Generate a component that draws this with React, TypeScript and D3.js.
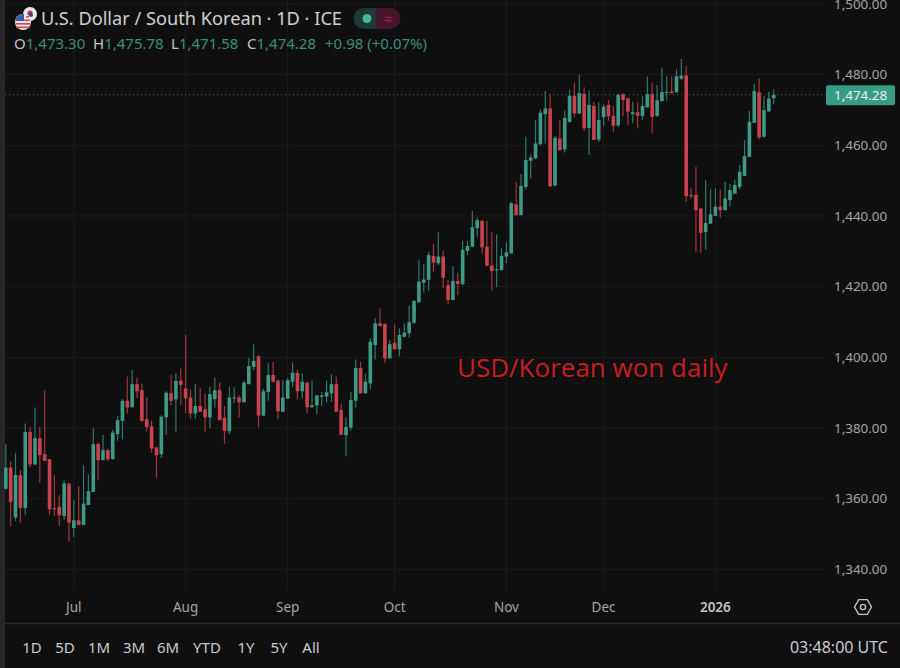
import { useRef, useEffect } from 'react';
import * as d3 from 'd3';

const opens = [
  1362.8,1368.8,1354.7,1366.7,1357.4,1378.9,1369.7,1377.1,1372.6,1371.2,
  1357.3,1357.7,1355.1,1364.3,1351.7,1353.9,1352.6,1358.2,1361.9,1375.5,
  1370.9,1373.7,1371.2,1378.3,1382.0,1387.7,1385.9,1392.4,1390.7,1382.5,
  1380.5,1374.5,1372.6,1383.0,1389.8,1388.1,1393.4,1391.2,1388.6,1384.1,
  1386.2,1385.3,1383.0,1388.2,1390.7,1382.9,1379.1,1388.4,1388.6,1387.3,
  1392.4,1397.3,1400.3,1383.5,1390.2,1395.0,1393.4,1384.6,1388.3,1393.1,
  1395.6,1390.4,1392.8,1385.9,1386.4,1388.8,1388.9,1389.8,1392.4,1385.1,
  1378.0,1380.1,1387.7,1397.0,1389.8,1392.6,1403.5,1409.6,1409.4,1399.7,
  1404.1,1402.3,1405.8,1406.8,1409.8,1415.6,1421.1,1421.9,1428.7,1426.6,
  1428.5,1420.4,1416.2,1421.6,1420.7,1430.1,1431.3,1436.5,1438.6,1431.3,
  1426.0,1424.6,1424.7,1428.5,1429.4,1443.3,1440.2,1448.2,1455.6,1456.3,
  1460.3,1468.8,1470.4,1448.6,1461.9,1458.8,1466.6,1474.0,1469.0,1474.5,
  1464.9,1471.1,1461.6,1467.9,1471.4,1468.3,1465.6,1474.4,1473.3,1468.8,
  1469.3,1468.3,1470.7,1474.4,1468.3,1472.5,1474.8,1475.2,1475.0,1478.8,
  1479.7,1445.9,1445.9,1442.1,1435.4,1437.8,1440.0,1442.6,1441.6,1444.5,
  1446.3,1448.2,1451.3,1456.7,1466.3,1475.0,1462.4,1469.6,1473.3,
];
const highs = [
  1375.4,1370.6,1373.0,1368.1,1381.3,1380.3,1385.8,1380.3,1390.6,1371.2,
  1366.7,1361.0,1365.2,1364.3,1359.6,1363.6,1369.5,1366.9,1379.9,1375.9,
  1378.0,1374.2,1379.4,1383.4,1388.2,1394.6,1396.4,1394.3,1392.6,1388.8,
  1382.2,1374.7,1383.6,1390.4,1395.0,1395.4,1396.9,1406.3,1390.9,1392.4,
  1391.4,1389.8,1391.7,1394.3,1392.8,1386.2,1391.7,1391.5,1389.2,1393.4,
  1399.7,1403.6,1400.6,1391.2,1398.3,1398.7,1393.7,1393.5,1394.2,1398.5,
  1396.4,1395.4,1393.1,1393.4,1389.3,1390.2,1393.4,1395.2,1394.5,1386.9,
  1383.0,1390.1,1399.4,1398.7,1395.4,1405.3,1411.0,1413.8,1409.6,1404.9,
  1409.3,1408.2,1409.6,1414.6,1416.2,1427.5,1426.3,1429.7,1432.0,1435.4,
  1430.2,1421.9,1425.8,1423.9,1433.0,1433.0,1441.4,1439.6,1438.8,1438.6,
  1435.4,1434.8,1430.8,1432.5,1444.0,1449.5,1451.8,1462.4,1457.4,1467.1,
  1470.1,1475.3,1474.5,1462.6,1467.1,1469.8,1475.6,1477.7,1479.9,1476.4,
  1475.4,1472.3,1472.1,1471.6,1472.8,1471.1,1474.4,1474.7,1473.3,1472.3,
  1472.3,1473.9,1479.4,1477.7,1477.0,1482.0,1479.5,1479.4,1481.5,1484.4,
  1482.4,1447.9,1453.9,1442.4,1450.1,1447.6,1447.8,1447.3,1449.6,1449.0,
  1450.3,1454.4,1461.4,1469.7,1477.3,1478.9,1473.9,1475.1,1475.78,
];
const lows = [
  1362.6,1352.3,1353.7,1353.2,1355.3,1368.8,1369.5,1364.5,1370.7,1355.5,
  1355.1,1352.3,1354.1,1347.8,1349.2,1352.5,1352.5,1358.2,1361.9,1365.2,
  1370.9,1370.6,1371.1,1376.4,1376.8,1384.1,1385.9,1388.4,1381.8,1379.1,
  1373.0,1365.9,1371.6,1378.0,1386.5,1378.7,1386.5,1384.1,1382.7,1382.7,
  1384.6,1378.9,1379.9,1385.8,1382.2,1375.6,1378.3,1387.1,1383.0,1387.3,
  1392.4,1396.4,1380.2,1383.4,1387.7,1392.9,1382.5,1384.6,1388.2,1391.5,
  1388.1,1388.5,1384.1,1385.8,1383.8,1386.2,1387.2,1387.4,1384.6,1378.0,
  1372.0,1379.2,1385.8,1389.8,1389.8,1390.9,1399.4,1408.7,1398.3,1399.7,
  1402.0,1400.3,1405.6,1405.6,1409.4,1415.3,1418.3,1418.8,1424.2,1426.1,
  1419.5,1415.1,1416.2,1417.6,1420.4,1428.9,1431.1,1434.1,1429.4,1425.8,
  1419.0,1419.8,1424.5,1426.6,1429.4,1440.2,1440.2,1447.5,1450.6,1456.0,
  1460.0,1460.5,1448.2,1448.4,1458.4,1457.9,1466.4,1467.9,1468.8,1464.1,
  1457.2,1461.5,1461.0,1465.5,1466.9,1463.8,1465.2,1468.2,1465.7,1466.2,
  1464.8,1467.1,1470.7,1463.5,1468.0,1472.3,1472.6,1474.4,1474.9,1478.6,
  1444.0,1444.9,1429.8,1429.5,1430.5,1437.8,1440.0,1439.5,1441.6,1442.6,
  1446.3,1447.5,1451.2,1456.7,1466.3,1461.6,1462.2,1469.4,1471.58,
];
const closes = [
  1368.8,1359.1,1366.7,1357.4,1378.9,1369.7,1377.1,1372.3,1370.7,1357.0,
  1357.0,1355.3,1364.3,1353.2,1353.9,1352.6,1358.6,1362.1,1375.4,1370.9,
  1373.7,1371.1,1378.7,1382.2,1387.7,1385.8,1392.4,1390.4,1382.0,1380.3,
  1374.2,1372.3,1383.2,1390.0,1387.7,1393.3,1392.2,1388.4,1384.1,1386.2,
  1384.6,1383.0,1389.6,1390.7,1382.2,1379.2,1388.6,1388.6,1387.3,1392.8,
  1397.5,1399.0,1383.5,1390.4,1395.0,1393.1,1384.7,1388.6,1393.5,1395.6,
  1390.4,1393.1,1385.9,1386.4,1389.2,1389.2,1390.1,1392.4,1384.6,1378.1,
  1380.3,1387.9,1397.0,1389.8,1393.1,1404.4,1409.6,1408.8,1399.7,1403.7,
  1402.3,1406.3,1407.0,1409.9,1415.9,1421.4,1422.0,1428.9,1426.8,1428.5,
  1422.5,1416.2,1421.6,1420.7,1430.4,1431.5,1436.8,1438.8,1431.1,1425.9,
  1424.4,1424.9,1428.7,1429.7,1443.6,1440.2,1448.5,1455.8,1456.5,1460.5,
  1469.2,1470.4,1448.4,1462.1,1458.6,1467.7,1474.0,1469.0,1474.7,1464.8,
  1471.4,1461.5,1467.1,1470.9,1468.2,1465.5,1474.3,1472.8,1469.5,1469.3,
  1468.3,1471.1,1474.4,1468.0,1472.7,1475.0,1475.1,1474.8,1479.5,1479.7,
  1445.6,1445.6,1441.6,1435.2,1438.0,1440.5,1442.6,1441.6,1444.9,1447.3,
  1448.7,1452.5,1456.9,1466.6,1475.3,1462.2,1469.9,1473.2,1474.28,
];

const priceTicks = [1340, 1360, 1380, 1400, 1420, 1440, 1460, 1480, 1500];
const monthLabels = ['Jul', 'Aug', 'Sep', 'Oct', 'Nov', 'Dec', '2026'];
const rangeLabels = ['1D', '5D', '1M', '3M', '6M', 'YTD', '1Y', '5Y', 'All'];
const rangeX = [32, 65, 99, 134, 168, 207, 246, 279, 311];
const lastClose = 1474.28;

const WIDTH = 900;
const HEIGHT = 668;
const UI_FONT = '"Noto Sans", sans-serif';
const UP = '#3f9a85';
const DOWN = '#c9434f';
const UP_WICK = '#2f7b69';
const DOWN_WICK = '#a23641';
const GRID = '#1c1c1c';

// weekdays only, the chart has no gaps for weekends
const days = d3.timeDay
  .range(new Date(2025, 5, 11), new Date(2026, 0, 20))
  .filter((d) => d.getDay() !== 0 && d.getDay() !== 6);

export default function App() {
  const svgRef = useRef<SVGSVGElement>(null);

  useEffect(() => {
    if (!svgRef.current) return;
    const svg = d3.select(svgRef.current);
    svg.selectAll('*').remove();

    const x = d3.scalePoint<number>().domain(d3.range(opens.length)).range([5.8, 773.7]);
    const y = d3.scaleLinear().domain([1340, 1480]).range([569.4, 74.5]);

    const candles = opens.map((o, i) => ({ i, o, h: highs[i], l: lows[i], c: closes[i] }));
    const monthStarts = d3
      .range(1, days.length)
      .filter((i) => days[i].getMonth() !== days[i - 1].getMonth());

    svg.append('rect').attr('width', WIDTH).attr('height', HEIGHT).attr('fill', '#0f0f0f');
    svg.append('rect').attr('width', 5).attr('height', HEIGHT).attr('fill', '#262626');

    // Gridlines
    svg.selectAll('line.hgrid')
      .data(priceTicks)
      .join('line')
      .attr('class', 'hgrid')
      .attr('x1', 5)
      .attr('x2', 824)
      .attr('y1', (d) => y(d))
      .attr('y2', (d) => y(d))
      .attr('stroke', GRID);

    svg.selectAll('line.vgrid')
      .data(monthStarts)
      .join('line')
      .attr('class', 'vgrid')
      .attr('x1', (d) => x(d)!)
      .attr('x2', (d) => x(d)!)
      .attr('y1', 0)
      .attr('y2', 590)
      .attr('stroke', GRID);

    // Last price line
    svg.append('line')
      .attr('x1', 5)
      .attr('x2', 826)
      .attr('y1', y(lastClose))
      .attr('y2', y(lastClose))
      .attr('stroke', '#3f9c86')
      .attr('stroke-opacity', 0.7)
      .attr('stroke-dasharray', '1 3');

    // Wicks
    svg.selectAll('line.wick')
      .data(candles)
      .join('line')
      .attr('class', 'wick')
      .attr('x1', (d) => x(d.i)!)
      .attr('x2', (d) => x(d.i)!)
      .attr('y1', (d) => y(d.h))
      .attr('y2', (d) => y(d.l))
      .attr('stroke', (d) => (d.c >= d.o ? UP_WICK : DOWN_WICK))
      .attr('stroke-width', 1.2);

    // Bodies
    svg.selectAll('rect.body')
      .data(candles)
      .join('rect')
      .attr('class', 'body')
      .attr('x', (d) => x(d.i)! - 1.8)
      .attr('width', 3.6)
      .attr('y', (d) => y(Math.max(d.o, d.c)))
      .attr('height', (d) => Math.max(1, Math.abs(y(d.o) - y(d.c))))
      .attr('fill', (d) => (d.c >= d.o ? UP : DOWN));

    // Y axis
    const yAxis = svg.append('g')
      .attr('transform', 'translate(828,0)')
      .call(d3.axisRight(y).tickValues(priceTicks).tickFormat(d3.format(',.2f')).tickSize(0).tickPadding(6));
    yAxis.select('.domain').remove();
    yAxis.selectAll('.tick text')
      .attr('font-family', UI_FONT)
      .attr('font-size', '13.4px')
      .attr('fill', '#a6a6a6');

    // Last price tag
    svg.append('rect')
      .attr('x', 826)
      .attr('y', y(lastClose) - 9.5)
      .attr('width', 69)
      .attr('height', 20)
      .attr('rx', 2)
      .attr('fill', '#379c84');
    svg.append('text')
      .attr('x', 834)
      .attr('y', y(lastClose) + 5)
      .attr('font-family', UI_FONT)
      .attr('font-size', '13.4px')
      .attr('fill', '#e8f2ef')
      .text(d3.format(',.2f')(lastClose));

    // Time axis
    svg.append('line')
      .attr('x1', 5)
      .attr('x2', WIDTH)
      .attr('y1', 623.5)
      .attr('y2', 623.5)
      .attr('stroke', '#2a2a2a')
      .attr('stroke-width', 1.5);

    svg.selectAll('text.month')
      .data(monthStarts)
      .join('text')
      .attr('class', 'month')
      .attr('x', (d) => x(d)!)
      .attr('y', 612)
      .attr('text-anchor', 'middle')
      .attr('font-family', UI_FONT)
      .attr('font-size', '13.5px')
      .attr('font-weight', (_, i) => (monthLabels[i] === '2026' ? 600 : 400))
      .attr('fill', (_, i) => (monthLabels[i] === '2026' ? '#c4c4c4' : '#a6a6a6'))
      .text((_, i) => monthLabels[i]);

    // Range buttons
    svg.selectAll('text.range')
      .data(rangeLabels)
      .join('text')
      .attr('class', 'range')
      .attr('x', (_, i) => rangeX[i])
      .attr('y', 653)
      .attr('text-anchor', 'middle')
      .attr('font-family', UI_FONT)
      .attr('font-size', '15px')
      .attr('fill', '#c8cbd1')
      .text((d) => d);

    svg.append('text')
      .attr('x', 888)
      .attr('y', 653)
      .attr('text-anchor', 'end')
      .attr('font-family', UI_FONT)
      .attr('font-size', '16px')
      .attr('fill', '#c8cbd1')
      .text('03:48:00 UTC');

    // Settings icon
    const hex = d3.range(6).map((k) => {
      const a = (Math.PI / 3) * k;
      return [863 + 8.5 * Math.cos(a), 607 + 8.5 * Math.sin(a)] as [number, number];
    });
    svg.append('path')
      .attr('d', d3.line()(hex) + 'Z')
      .attr('fill', 'none')
      .attr('stroke', '#c4c4c4')
      .attr('stroke-width', 1.4);
    svg.append('circle')
      .attr('cx', 863)
      .attr('cy', 607)
      .attr('r', 2.6)
      .attr('fill', 'none')
      .attr('stroke', '#c4c4c4')
      .attr('stroke-width', 1.4);

    // Flags
    svg.append('circle').attr('cx', 30).attr('cy', 14).attr('r', 7).attr('fill', '#e8e8ea');
    svg.append('circle').attr('cx', 30).attr('cy', 13).attr('r', 2.6).attr('fill', '#b5344a');
    svg.append('circle').attr('cx', 31).attr('cy', 15).attr('r', 2).attr('fill', '#2e4b8e');
    svg.append('circle').attr('cx', 23).attr('cy', 22).attr('r', 8).attr('fill', '#e9e9ec');
    svg.selectAll('rect.stripe')
      .data([17, 20.5, 24, 27.5])
      .join('rect')
      .attr('class', 'stripe')
      .attr('x', (d) => (d < 20 ? 26 : 16))
      .attr('y', (d) => d - 1)
      .attr('width', (d) => (d < 20 ? 3 : 14))
      .attr('height', 1.6)
      .attr('fill', '#cc4a52');
    svg.append('path').attr('d', 'M15.2 21 A8 8 0 0 1 24 14.1 V21 Z').attr('fill', '#3a5aa8');

    // Title
    svg.append('text')
      .attr('x', 41)
      .attr('y', 25)
      .attr('font-family', UI_FONT)
      .attr('font-size', '18.2px')
      .attr('fill', '#cfcfcf')
      .text('U.S. Dollar / South Korean · 1D · ICE');

    // Market status pill
    svg.append('path').attr('d', 'M376 8 H364 A10.5 10.5 0 0 0 364 29 H376 Z').attr('fill', '#1a3a33');
    svg.append('path').attr('d', 'M376 8 H390 A10.5 10.5 0 0 1 390 29 H376 Z').attr('fill', '#47142a');
    svg.append('circle').attr('cx', 367).attr('cy', 18.5).attr('r', 4.5).attr('fill', '#45b79b');
    svg.append('text')
      .attr('x', 388)
      .attr('y', 24)
      .attr('text-anchor', 'middle')
      .attr('font-family', UI_FONT)
      .attr('font-size', '15px')
      .attr('fill', '#a8295a')
      .text('≈');

    // OHLC readout
    const last = candles[candles.length - 1];
    const fmt = d3.format(',.2f');
    const ohlc = [
      { key: 'O', x: 14, value: last.o },
      { key: 'H', x: 93, value: last.h },
      { key: 'L', x: 171, value: last.l },
      { key: 'C', x: 247, value: last.c },
    ];
    const readout = svg.append('g')
      .attr('font-family', UI_FONT)
      .attr('font-size', '15px');
    ohlc.forEach((r) => {
      const t = readout.append('text').attr('x', r.x).attr('y', 49);
      t.append('tspan').attr('fill', '#c4c4c4').text(r.key);
      t.append('tspan').attr('fill', '#3a8f7a').text(fmt(r.value));
    });
    readout.append('text')
      .attr('x', 325)
      .attr('y', 49)
      .attr('fill', '#3a8f7a')
      .text('+0.98 (+0.07%)');

    // Annotation
    svg.append('text')
      .attr('x', 457)
      .attr('y', 377)
      .attr('font-family', '"Open Sans", sans-serif')
      .attr('font-size', '26px')
      .attr('font-weight', 500)
      .attr('fill', '#c81e23')
      .text('USD/Korean won daily');
  }, []);

  return (
    <svg
      ref={svgRef}
      width={WIDTH}
      height={HEIGHT}
      viewBox={'0 0 ' + WIDTH + ' ' + HEIGHT}
      style={{ position: 'fixed', left: 0, top: 0 }}
    />
  );
}
